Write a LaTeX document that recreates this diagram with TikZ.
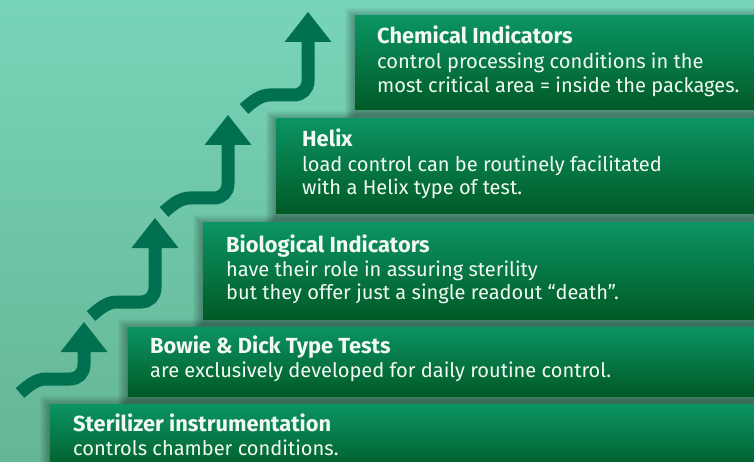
\documentclass[tikz,border=0pt]{standalone}
\usepackage{fontspec}
\setmainfont{Fira Sans}
\definecolor{bgtop}{HTML}{78D4B9}
\definecolor{bgbot}{HTML}{64B694}
\definecolor{boxtop}{HTML}{0B9463}
\definecolor{boxbot}{HTML}{005A26}
\definecolor{arrowc}{HTML}{007050}
\definecolor{txt}{HTML}{F2F9F2}
\newlength\reflen
\newcommand\mainfs{}
\newcommand\titlefs{}
\newcommand\stairarrow[3]{%
  \draw[arr] (#1,#2+29) -- (#1,#3-14) .. controls (#1,#3-6) and (#1-6,#3) .. (#1-14,#3)
     -- (#1-38,#3) .. controls (#1-48,#3) and (#1-56,#3+7) .. (#1-64,#3+14);
  \fill[head] (#1-23.5,#2+30) -- (#1,#2) -- (#1+23.5,#2+30) -- cycle;
}
\newcommand\boxshadow[3]{% left, top, bottom
  \foreach \r in {1,...,10}{\fill[black,opacity=0.03] (#1-\r,#2-\r+2) rectangle (770,#3+\r+4);}
}
\tikzset{
  box/.style={anchor=north west, inner sep=0pt, outer sep=0pt, top color=boxtop, bottom color=boxbot, draw=none},
  ttl/.style={anchor=base west, inner sep=0pt, text=txt, font=\titlefs\bfseries},
  bdy/.style={anchor=base west, inner sep=0pt, text=txt, font=\mainfs},
  arr/.style={draw=arrowc, line width=13pt, line cap=butt},
  head/.style={fill=arrowc}
}
\begin{document}
\settowidth\reflen{\fontsize{10pt}{12pt}\selectfont are exclusively developed for daily routine control.}%
\pgfmathsetmacro\fsz{10*461/\reflen}%
\settowidth\reflen{\fontsize{10pt}{12pt}\selectfont\bfseries Sterilizer instrumentation}%
\pgfmathsetmacro\tsz{10*258/\reflen}%
\renewcommand\mainfs{\fontsize{\fsz pt}{24pt}\selectfont}%
\renewcommand\titlefs{\fontsize{\tsz pt}{24pt}\selectfont}%
\begin{tikzpicture}[x=1pt,y=-1pt]
\useasboundingbox (0,0) rectangle (754,462);
\clip (0,0) rectangle (754,462);
\shade[top color=bgtop, bottom color=bgbot] (0,0) rectangle (754,462);
% shadows
\boxshadow{355}{16}{110}
\boxshadow{276}{119}{214}
\boxshadow{203}{223}{319}
\boxshadow{128}{327}{396}
\boxshadow{50}{404}{470}
% arrows
\stairarrow{84}{322}{379}
\stairarrow{155}{218}{302}
\stairarrow{228}{115}{198}
\stairarrow{308}{12}{95}
% boxes
\node[box, minimum width=415pt, minimum height=94pt] (b1) at (355,16) {};
\node[box, minimum width=494pt, minimum height=95pt] (b2) at (276,119) {};
\node[box, minimum width=567pt, minimum height=96pt] (b3) at (203,223) {};
\node[box, minimum width=642pt, minimum height=69pt] (b4) at (128,327) {};
\node[box, minimum width=720pt, minimum height=70pt] (b5) at (50,404) {};
% texts
\node[ttl] (t1) at (377,44) {Chemical Indicators};
\node[bdy] (t1a) at (377,69) {control processing conditions in the};
\node[bdy] (t1b) at (377,93) {most critical area = inside the packages.};
\node[ttl] (t2) at (302,147) {Helix};
\node[bdy] (t2a) at (302,172) {load control can be routinely facilitated};
\node[bdy] (t2b) at (302,195) {with a Helix type of test.};
\node[ttl] (t3) at (226,252) {Biological Indicators};
\node[bdy] (t3a) at (226,276) {have their role in assuring sterility};
\node[bdy] (t3b) at (226,299) {but they offer just a single readout “death”.};
\node[ttl] (t4) at (150,353) {Bowie \& Dick Type Tests};
\node[bdy] (t4a) at (150,377) {are exclusively developed for daily routine control.};
\node[ttl] (t5) at (73,431) {Sterilizer instrumentation};
\node[bdy] (t5a) at (73,455) {controls chamber conditions.};
\end{tikzpicture}
\end{document}
